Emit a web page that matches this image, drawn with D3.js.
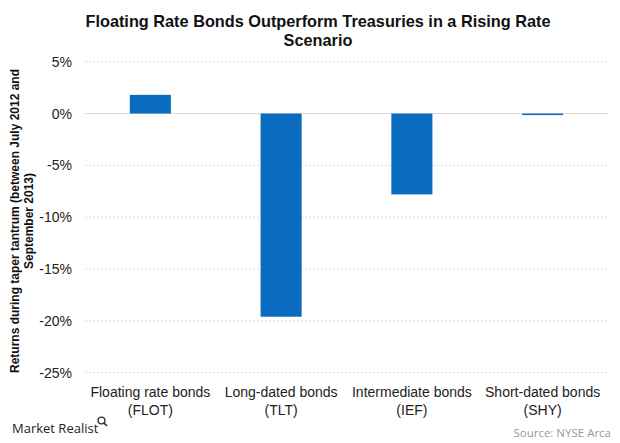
<!DOCTYPE html>
<html><head><meta charset="utf-8">
<script src="https://cdn.jsdelivr.net/npm/d3@7"></script>
<style>body{margin:0;background:#fff;} svg{display:block;}</style>
</head><body>
<svg id="c" width="620" height="443"></svg>
<script>
const categories = ["Floating rate bonds|(FLOT)", "Long-dated bonds|(TLT)", "Intermediate bonds|(IEF)", "Short-dated bonds|(SHY)"];
const values = [1.8, -19.6, -7.8, -0.15];
const yTicks = [5, 0, -5, -10, -15, -20, -25];
const titleLines = ["Floating Rate Bonds Outperform Treasuries in a Rising Rate", "Scenario"];
const yTitleLines = ["Returns during taper tantrum (between July 2012 and", "September 2013)"];

const svg = d3.select("#c");
const font = "Arial, 'Liberation Sans', sans-serif";
const x = d3.scaleBand().domain(categories).range([85, 608]).paddingInner(0.686).paddingOuter(0.343);
const y = d3.scaleLinear().domain([-25, 5]).range([372.7, 61.7]);

// grid
svg.append("g").selectAll("line").data(yTicks.filter(d => d !== 0)).join("line")
  .attr("x1", 85).attr("x2", 608).attr("y1", d => y(d)).attr("y2", d => y(d))
  .attr("stroke", "#d9d9d9").attr("stroke-width", 1).attr("stroke-dasharray", "2,2");
svg.append("line").attr("x1", 85).attr("x2", 608).attr("y1", y(0)).attr("y2", y(0))
  .attr("stroke", "#d9d9d9").attr("stroke-width", 1);

// bars
svg.append("g").selectAll("rect").data(values).join("rect")
  .attr("x", (d, i) => x(categories[i])).attr("width", x.bandwidth())
  .attr("y", d => y(Math.max(0, d))).attr("height", d => Math.abs(y(d) - y(0)))
  .attr("fill", "#0A6CC1");

// y axis labels
const yAxis = d3.axisLeft(y).tickValues(yTicks).tickSize(0).tickPadding(0).tickFormat(d => d + "%");
const ga = svg.append("g").attr("transform", "translate(72,0)").call(yAxis);
ga.select(".domain").remove();
ga.selectAll("text").attr("font-family", font).attr("font-size", 14).attr("fill", "#222");

// x axis labels
const xAxis = d3.axisBottom(x).tickSize(0).tickFormat("");
const gx = svg.append("g").attr("transform", "translate(0,373)").call(xAxis);
gx.select(".domain").remove();
gx.selectAll(".tick").each(function(d) {
  const t = d3.select(this).append("text").attr("font-family", font).attr("font-size", 14)
    .attr("fill", "#222").attr("text-anchor", "middle");
  d.split("|").forEach((s, i) => t.append("tspan").attr("x", 0).attr("y", 24 + i * 18).text(s));
});

// title
const tt = svg.append("text").attr("font-family", font).attr("font-size", 16.3).attr("font-weight", "bold")
  .attr("fill", "#111").attr("text-anchor", "middle");
titleLines.forEach((s, i) => tt.append("tspan").attr("x", 318).attr("y", 27 + i * 18.5).text(s));

// y title
const yt = svg.append("text").attr("font-family", font).attr("font-size", 12).attr("font-weight", "bold")
  .attr("fill", "#111").attr("text-anchor", "middle").attr("transform", "translate(0,221) rotate(-90)");
yTitleLines.forEach((s, i) => yt.append("tspan").attr("x", 0).attr("y", 19 + i * 14).text(s));

// footer
svg.append("text").attr("x", 12).attr("y", 433).attr("font-family", "'Open Sans', sans-serif")
  .attr("font-size", 13).attr("fill", "#222").text("Market Realist");
const mg = svg.append("g").attr("transform", "translate(101.5,420.5)");
mg.append("circle").attr("r", 3.4).attr("fill", "none").attr("stroke", "#333").attr("stroke-width", 1.4);
mg.append("line").attr("x1", 2.4).attr("y1", 2.4).attr("x2", 5.5).attr("y2", 5.5).attr("stroke", "#333").attr("stroke-width", 1.7);
svg.append("text").attr("x", 611).attr("y", 437).attr("text-anchor", "end").attr("font-family", "'Open Sans', sans-serif")
  .attr("font-size", 11.5).attr("fill", "#9a9a9a").text("Source: NYSE Arca");
</script>
</body></html>
